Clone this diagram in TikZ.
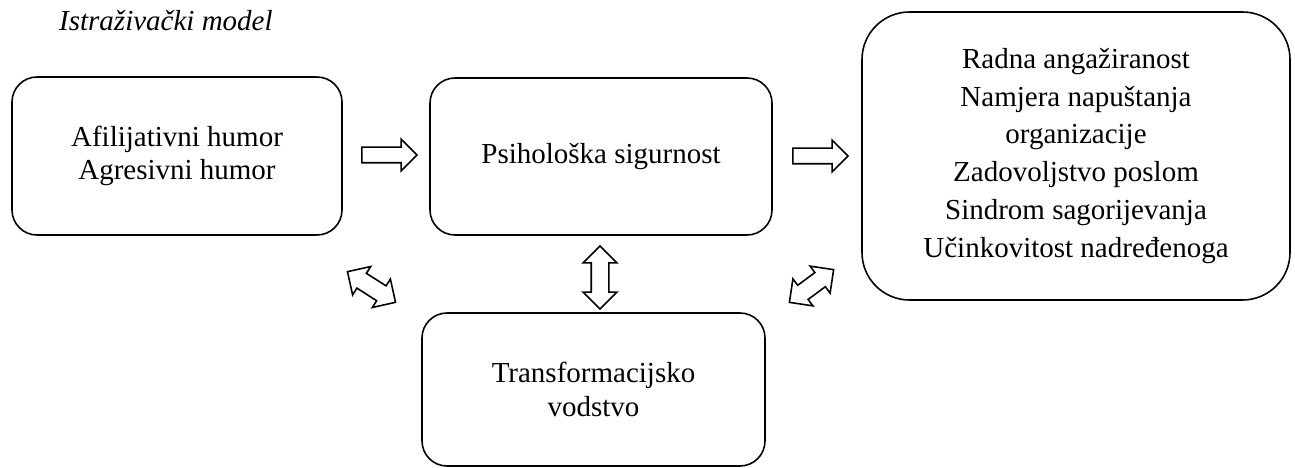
\documentclass[tikz,border=0pt]{standalone}
\usepackage{fontspec}
\setmainfont{Liberation Serif}
\usetikzlibrary{shapes.arrows}

\tikzset{
  modelbox/.style={draw, line width=0.9pt, rounded corners=0.5cm, align=center,
    font=\fontsize{16.5}{19}\selectfont},
  bigbox/.style={modelbox, rounded corners=0.95cm, font=\fontsize{16.5}{21.6}\selectfont},
  fatarrow/.style={single arrow, draw, line width=0.9pt, inner xsep=0pt, inner ysep=0.14cm,
    minimum height=1.1cm, single arrow head extend=0.16cm,
    single arrow head indent=0pt},
  twoway/.style={double arrow, draw, line width=0.9pt, inner xsep=0pt, inner ysep=0.16cm,
    double arrow head extend=0.16cm, double arrow head indent=0pt},
}

\begin{document}
\begin{tikzpicture}
  \useasboundingbox (0,0) rectangle (25.9,-9.36);

  % title
  \node[anchor=west, font=\fontsize{16.5}{20}\selectfont\itshape] (title) at (1.06,-0.42) {Istraživački model};

  % boxes
  \node[modelbox, minimum width=6.6cm, minimum height=3.16cm] (humor) at (3.54,-3.12)
    {Afilijativni humor\\Agresivni humor};
  \node[modelbox, minimum width=6.84cm, minimum height=3.14cm] (safety) at (12.02,-3.13)
    {Psihološka sigurnost};
  \node[bigbox, minimum width=8.56cm, minimum height=5.76cm] (outcomes) at (21.52,-3.12)
    {Radna angažiranost\\Namjera napuštanja\\organizacije\\Zadovoljstvo poslom\\Sindrom sagorijevanja\\Učinkovitost nadređenoga};
  \node[modelbox, minimum width=6.86cm, minimum height=3.06cm] (leader) at (11.87,-7.79)
    {Transformacijsko\\vodstvo};

  % arrows between boxes
  \node[fatarrow] (a1) at (7.71,-3.1) {};
  \node[fatarrow] (a2) at (16.33,-3.12) {};
  \node[twoway, minimum height=1.26cm, rotate=90] (a3) at (12.0,-5.55) {};
  \node[twoway, minimum height=1.14cm, rotate=-32.5] (a4) at (7.43,-5.74) {};
  \node[twoway, minimum height=1.1cm, rotate=36.5] (a5) at (16.23,-5.72) {};
\end{tikzpicture}
\end{document}
